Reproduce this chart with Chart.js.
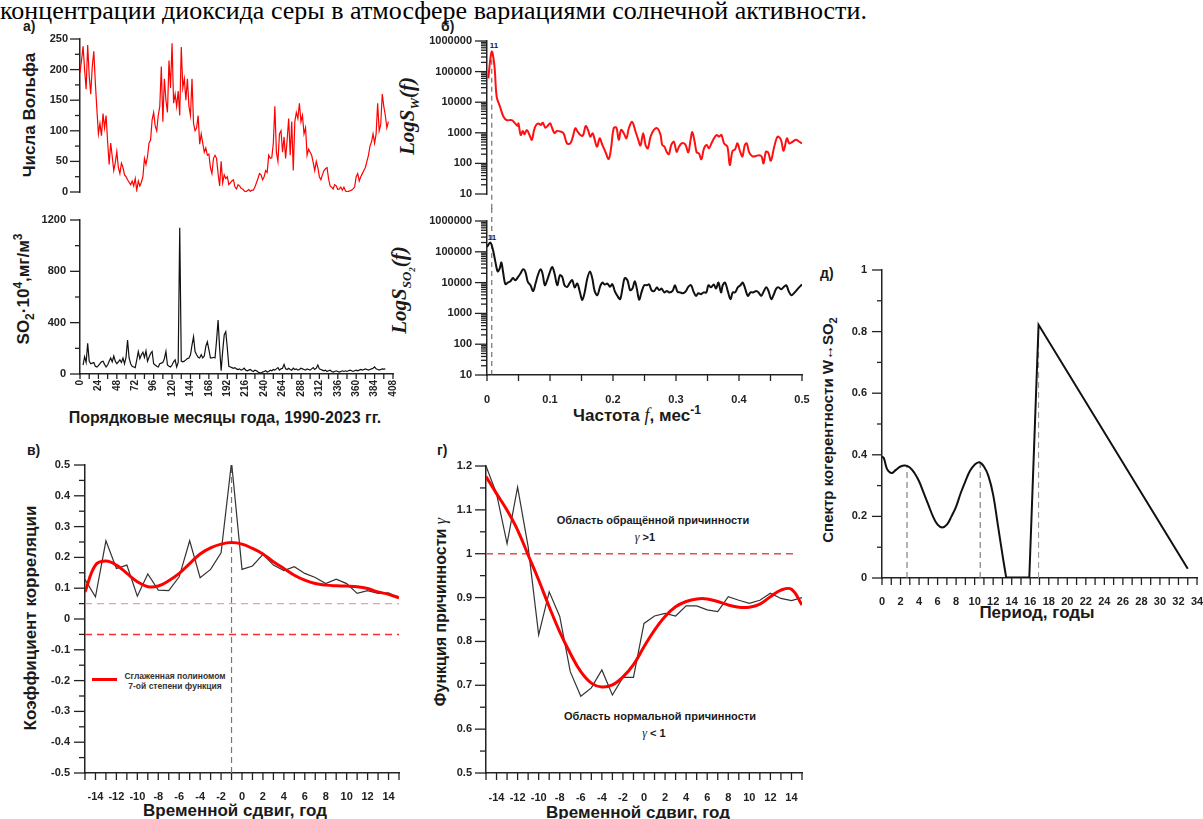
<!DOCTYPE html>
<html><head><meta charset="utf-8">
<script src="https://cdn.jsdelivr.net/npm/chart.js@4"></script>
<style>
html,body{margin:0;padding:0;background:#fff;}
body{width:1203px;height:819px;overflow:hidden;position:relative;font-family:"Liberation Sans",Arial,sans-serif;}
canvas{position:absolute;}
.t{position:absolute;white-space:nowrap;font-weight:bold;color:#1a1a1a;line-height:1;}
.c{transform:translate(-50%,-50%);}
.r{transform:translate(-50%,-50%) rotate(-90deg);}
.s{font-family:"Liberation Serif","Times New Roman",serif;font-style:italic;font-weight:normal;}
</style></head><body>

<div class="t" style="left:0;top:-2px;font-family:'Liberation Serif',serif;font-weight:normal;font-size:26px;color:#000">концентрации диоксида серы в атмосфере вариациями солнечной активности.</div>

<div class="t" style="left:23px;top:19px;font-size:14px">а)</div>
<div class="t" style="left:441px;top:19px;font-size:14px">б)</div>
<div class="t" style="left:27px;top:443px;font-size:14px">в)</div>
<div class="t" style="left:437px;top:443px;font-size:14px">г)</div>
<div class="t" style="left:820px;top:266px;font-size:14px">д)</div>

<div class="t r" style="left:29px;top:115px;font-size:17px">Числа Вольфа</div>
<div class="t r" style="left:24px;top:289px;font-size:17px">SO<sub style="font-size:12px">2</sub>·10<sup style="font-size:12px">4</sup>,мг/м<sup style="font-size:12px">3</sup></div>
<div class="t c" style="left:225px;top:418px;font-size:16px">Порядковые месяцы года, 1990-2023 гг.</div>

<div class="t r s" style="left:409px;top:116px;font-size:21px;font-weight:bold">LogS<sub style="font-size:13px">W</sub>(f)</div>
<div class="t r s" style="left:403px;top:290px;font-size:21px;font-weight:bold">LogS<sub style="font-size:13px">SO<sub style="font-size:9px">2</sub></sub>(f)</div>
<div class="t c" style="left:637px;top:414px;font-size:17px">Частота <span class="s" style="font-size:18px">f</span>, мес<sup style="font-size:12px">-1</sup></div>
<div class="t c" style="left:494px;top:46px;font-size:8px">11</div>
<div class="t c" style="left:492px;top:238px;font-size:8px">11</div>

<div class="t r" style="left:30px;top:618px;font-size:17px">Коэффициент корреляции</div>
<div class="t c" style="left:235px;top:810px;font-size:17px">Временной сдвиг, год</div>
<div style="position:absolute;left:92px;top:678px;width:25px;height:3px;background:#ff0000"></div>
<div class="t c" style="left:175px;top:676px;font-size:8.5px;color:#333">Сглаженная полиномом</div>
<div class="t c" style="left:175px;top:686px;font-size:8.5px;color:#333">7-ой степени функция</div>

<div class="t r" style="left:441px;top:612px;font-size:16px">Функция причинности <span class="s">γ</span></div>
<div class="t c" style="left:638px;top:812px;font-size:17px">Временной сдвиг, год</div>
<div class="t c" style="left:653px;top:520px;font-size:11px">Область обращённой причинности</div>
<div class="t c" style="left:645px;top:537px;font-size:11px"><span class="s" style="font-size:12px">γ</span> &gt;1</div>
<div class="t c" style="left:660px;top:716px;font-size:11px">Область нормальной причинности</div>
<div class="t c" style="left:654px;top:733px;font-size:11px"><span class="s" style="font-size:12px">γ</span> &lt; 1</div>

<div class="t r" style="left:829px;top:430px;font-size:15px">Спектр когерентности W↔SO<sub style="font-size:11px">2</sub></div>
<div class="t c" style="left:1037px;top:612px;font-size:17px">Период, годы</div>

<script>
// ---------- DATA ----------
// а) Wolf numbers, one value every 2 months starting at month 0
const wolfFirstMonth = 0, wolfMonthStep = 2;
const wolfValues = [
 195,215,238,200,168,240,190,160,205,230,
 178,135,95,112,92,128,105,125,82,45,
 80,58,35,48,66,40,30,47,40,28,
 25,20,16,12,18,10,22,3,18,10,
 16,25,55,45,58,80,85,118,130,108,
 100,125,140,205,115,185,150,130,215,170,
 243,145,160,140,165,125,237,170,185,150,
 185,140,125,185,112,100,105,125,78,95,
 80,65,72,60,62,40,30,55,60,55,
 30,10,50,15,28,22,25,12,15,18,
 20,8,5,12,10,6,5,2,0,2,
 4,1,3,3,8,15,22,30,28,20,
 25,35,32,60,55,56,80,140,65,50,
 95,100,65,90,55,85,120,60,115,35,
 115,130,120,145,115,125,95,105,60,70,
 65,60,48,35,50,40,25,20,28,35,
 38,40,22,10,8,5,12,10,4,5,
 8,3,8,2,0,1,2,3,5,8,
 25,30,18,25,30,35,40,50,60,75,
 82,95,80,95,145,100,110,160,140,125,
 105,115];
// а) SO2 concentration, one value every 2 months starting at month 4
const so2FirstMonth = 4, so2MonthStep = 2;
const so2Values = [
 70,135,90,240,100,80,85,90,60,55,
 65,80,95,100,75,55,70,100,125,95,
 140,100,80,95,110,90,125,80,130,265,
 125,80,60,55,50,110,175,120,150,170,
 130,180,100,130,160,175,80,70,60,55,
 80,85,90,120,175,70,60,55,70,95,
 110,55,90,1140,100,95,100,110,120,125,
 150,225,290,175,150,130,125,150,125,140,
 215,250,190,125,125,130,125,260,420,200,
 25,180,305,330,205,60,55,50,45,50,
 40,35,40,30,35,45,30,25,30,35,
 25,20,30,25,15,10,8,15,20,25,
 15,20,30,25,35,30,40,50,30,40,
 45,75,40,35,45,35,30,45,35,40,
 30,35,45,40,35,30,40,35,30,40,
 50,35,45,70,40,35,30,25,30,20,
 25,30,20,15,20,25,20,15,20,25,
 20,25,20,25,30,25,20,25,30,25,
 30,35,30,35,40,35,30,35,40,45,
 55,40,35,30,35,40,38,40];
const wolfTicksY = [0,50,100,150,200,250];
const so2TicksY = [0,400,800,1200];
const monthTicks = [0,24,48,72,96,120,144,168,192,216,240,264,288,312,336,360,384,408];

// б) spectra
const peakFreq = 0.0076;
const swFreq = [0.002,0.0074,0.0117,0.0154,0.0207,0.026,0.0313,0.0393,0.0446,0.0488,0.0499,0.0536,0.0568,0.0594,0.0632,0.0674,0.0711,0.0748,0.078,0.0817,0.0855,0.0886,0.0924,0.0961,0.1003,0.1035,0.1072,0.1109,0.1162,0.1215,0.1269,0.1322,0.1364,0.1401,0.1438,0.1481,0.1523,0.1566,0.1603,0.164,0.1677,0.1704,0.1746,0.1789,0.1831,0.1879,0.1932,0.1969,0.2011,0.2054,0.2091,0.2128,0.2171,0.2213,0.2251,0.2304,0.2357,0.2394,0.2436,0.2479,0.2516,0.2553,0.2596,0.2649,0.2702,0.2755,0.2781,0.2818,0.285,0.2887,0.2925,0.2967,0.301,0.3047,0.3089,0.3126,0.3153,0.3195,0.3232,0.3259,0.3296,0.3328,0.3365,0.3402,0.3445,0.3487,0.3524,0.3562,0.3604,0.3646,0.3684,0.3721,0.3763,0.3816,0.3854,0.3896,0.3938,0.3976,0.4018,0.4055,0.4092,0.4124,0.4161,0.4214,0.4268,0.4321,0.4358,0.439,0.4427,0.4464,0.4506,0.4559,0.4613,0.4666,0.4708,0.4761,0.4798,0.4851,0.4904,0.4958,0.5];
const swValues = [60000,450000,164000,15000,7100,3400,2600,2600,2030,1670,2030,850,1150,890,1240,850,590,1240,1790,2030,1790,2140,1480,1670,2030,1410,970,1150,1100,970,450,450,750,1410,1100,850,810,1670,1240,750,970,660,350,660,400,240,140,310,1410,1480,590,1240,970,660,1410,2290,1100,660,385,970,400,310,750,1240,1410,850,400,350,240,200,400,510,240,350,450,450,400,230,590,1050,510,230,210,137,310,400,310,450,660,850,750,850,450,350,89,250,290,450,240,170,400,450,230,170,175,185,170,100,240,225,122,350,750,590,260,660,450,510,590,510,450];
const sso2Freq = [0,0.0053,0.0096,0.0133,0.017,0.0202,0.0228,0.0255,0.0292,0.0329,0.0372,0.0414,0.0451,0.0494,0.0531,0.0573,0.061,0.0648,0.069,0.0732,0.077,0.0807,0.0849,0.0881,0.0918,0.0955,0.0998,0.1035,0.1072,0.1115,0.1157,0.1194,0.1231,0.1274,0.1316,0.1354,0.1391,0.1433,0.1476,0.1513,0.155,0.1592,0.1635,0.1672,0.1709,0.1752,0.1794,0.1831,0.1868,0.1911,0.1953,0.199,0.2028,0.207,0.2113,0.215,0.2187,0.2229,0.2272,0.2309,0.2346,0.2378,0.2415,0.2452,0.2495,0.2537,0.2574,0.2611,0.2654,0.2696,0.2734,0.2771,0.2813,0.2856,0.2893,0.2946,0.2983,0.3025,0.3068,0.311,0.3158,0.3195,0.3238,0.328,0.3317,0.3355,0.3397,0.3439,0.3482,0.3514,0.3556,0.3599,0.3636,0.3673,0.3715,0.3742,0.3779,0.3822,0.3864,0.3901,0.3938,0.3981,0.4023,0.406,0.4098,0.414,0.4183,0.422,0.4273,0.431,0.4352,0.4395,0.4432,0.4469,0.4512,0.4554,0.4591,0.4628,0.4671,0.4713,0.4751,0.4788,0.483,0.4883,0.4936,0.5];
const sso2Values = [144000,200000,112000,47000,23000,29000,45000,22000,8900,10000,11100,14000,11900,15300,19700,27000,22000,10500,8200,5300,9300,17300,27000,19700,8200,12000,22000,32000,19700,8200,17300,15300,8200,7300,10000,12000,7000,9300,4800,2700,4800,13500,23000,13500,5300,3900,7300,10000,8700,9300,7300,8900,5300,3700,2900,6400,14000,11900,5700,6400,11100,6400,2800,4800,8200,8200,8700,5700,5300,7000,5700,6400,4800,5300,4800,5400,8200,5000,4800,4500,5300,7300,8200,5000,3700,4500,4200,4800,4800,8200,7000,8700,6400,10000,4800,8200,10000,5300,2900,4800,4800,7000,8200,10000,6400,3700,4800,4800,5300,4800,3700,5300,7000,5300,2900,4200,6400,7000,6100,7300,8200,5300,3900,4800,6400,8700];
const logTicks = [10,100,1000,10000,100000,1000000];
const freqTicks = [0,0.1,0.2,0.3,0.4,0.5];

// в) and г) lag functions
const lagYears = [-15,-14,-13,-12,-11,-10,-9,-8,-7,-6,-5,-4,-3,-2,-1,0,1,2,3,4,5,6,7,8,9,10,11,12,13,14,15];
const corrRaw = [0.128,0.072,0.254,0.164,0.175,0.074,0.146,0.094,0.092,0.137,0.254,0.134,0.161,0.215,0.509,0.161,0.172,0.21,0.175,0.157,0.17,0.148,0.135,0.115,0.129,0.115,0.083,0.092,0.083,0.085,0.069];
const corrSmooth = [0.088,0.175,0.188,0.175,0.148,0.121,0.105,0.107,0.124,0.148,0.18,0.211,0.231,0.243,0.248,0.243,0.229,0.211,0.186,0.164,0.142,0.126,0.115,0.11,0.108,0.107,0.105,0.099,0.088,0.08,0.069];
const corrLevel = 0.05;
const corrPeakLag = -1;
const causRaw = [1.2,1.137,1.023,1.152,1.016,0.815,0.913,0.857,0.731,0.675,0.694,0.735,0.678,0.718,0.718,0.841,0.858,0.864,0.858,0.881,0.881,0.872,0.868,0.902,0.894,0.887,0.894,0.91,0.898,0.893,0.9];
const causSmooth = [1.176,1.137,1.099,1.054,0.997,0.94,0.879,0.822,0.773,0.731,0.705,0.696,0.701,0.719,0.747,0.788,0.826,0.857,0.879,0.891,0.897,0.897,0.891,0.883,0.878,0.878,0.885,0.902,0.917,0.919,0.883];
const causLevel = 1;
const lagTicks = [-14,-12,-10,-8,-6,-4,-2,0,2,4,6,8,10,12,14];
const corrTicksY = [-0.5,-0.4,-0.3,-0.2,-0.1,0,0.1,0.2,0.3,0.4,0.5];
const causTicksY = [0.5,0.6,0.7,0.8,0.9,1,1.1,1.2];

// д) coherence spectrum
const cohPeriodSmooth = [0,0.2,0.5,0.8,1.1,1.5,2,2.5,3,3.5,4,4.5,5,5.5,6,6.5,7,7.5,8,8.5,9,9.5,10,10.5,11,11.5,12,12.5,13,13.4];
const cohSmooth = [0.395,0.389,0.357,0.344,0.341,0.351,0.362,0.365,0.359,0.341,0.314,0.276,0.238,0.2,0.173,0.164,0.173,0.2,0.232,0.276,0.314,0.348,0.368,0.376,0.362,0.33,0.27,0.173,0.076,0.002];
const cohPeriodLinear = [13.4,15.9,16.9,33];
const cohLinear = [0.002,0.002,0.822,0.03];
const cohPeakPeriods = [2.7,10.6,16.9];
const cohPeakValues = [0.365,0.376,0.822];
const periodTicks = [0,2,4,6,8,10,12,14,16,18,20,22,24,26,28,30,32,34];
const cohTicksY = [0,0.2,0.4,0.6,0.8,1];

// ---------- RENDERING ----------
const FONT = "'Liberation Sans', Arial, sans-serif";
Chart.defaults.font.family = FONT;
Chart.defaults.color = '#222';

const range = (a, b, s) => { const r = []; for (let v = a; v <= b + 1e-9; v += s) r.push(Math.round(v * 1000) / 1000); return r; };

const tickPlugin = {
  id: 'tickMarks',
  afterDraw(chart, args, opts) {
    const ctx = chart.ctx, a = chart.chartArea;
    ctx.save();
    ctx.strokeStyle = '#222';
    ctx.lineWidth = 1.3;
    for (const d of (opts.defs || [])) {
      const s = chart.scales[d.axis];
      for (const v of d.values) {
        const p = s.getPixelForValue(v);
        ctx.beginPath();
        if (d.axis === 'x') { ctx.moveTo(p, a.bottom); ctx.lineTo(p, a.bottom + d.len); }
        else { ctx.moveTo(a.left, p); ctx.lineTo(a.left - d.len, p); }
        ctx.stroke();
      }
    }
    ctx.restore();
  }
};

function axisOpts(o, pos, fit) {
  return {
    type: o.type || 'linear', position: pos, min: o.min, max: o.max,
    grid: {display: false, drawTicks: true, tickLength: o.tl || 0},
    border: {display: o.line !== false, color: '#222', width: 1.5},
    ticks: {display: o.labels !== false, padding: o.pad || 0, autoSkip: false,
      maxRotation: o.rot || 0, minRotation: o.rot || 0,
      font: {size: o.fs || 11, weight: 'bold'}, color: '#222',
      callback: (v) => String(v)},
    afterBuildTicks: (s) => { s.ticks = (o.ticks || []).map(v => ({value: v})); },
    afterFit: (s) => { fit(s); s.paddingLeft = 0; s.paddingRight = 0; s.paddingTop = 0; s.paddingBottom = 0; }
  };
}

function pts(xs, ys) { return xs.map((x, i) => ({x: x, y: ys[i]})); }
function ds(xs, ys, color, width, extra) {
  return Object.assign({data: pts(xs, ys), borderColor: color, borderWidth: width, fill: false,
    tension: 0, pointRadius: 0}, extra || {});
}

function panel(box, xo, yo, datasets, defs) {
  const c = document.createElement('canvas');
  const w = box.R - box.L + box.pl + box.pr;
  const h = box.B - box.T + box.pt + box.pb;
  c.width = w; c.height = h;
  c.style.left = (box.L - box.pl) + 'px'; c.style.top = (box.T - box.pt) + 'px';
  c.style.width = w + 'px'; c.style.height = h + 'px';
  document.body.appendChild(c);
  return new Chart(c, {
    type: 'line',
    data: {datasets: datasets},
    options: {
      responsive: false, animation: false, devicePixelRatio: 1, events: [],
      layout: {padding: {left: 0, top: box.pt, right: box.pr, bottom: 0}, autoPadding: false},
      plugins: {legend: {display: false}, tooltip: {enabled: false}, tickMarks: {defs: defs}},
      elements: {point: {radius: 0}},
      scales: {
        x: axisOpts(xo, 'bottom', s => { s.height = box.pb; }),
        y: axisOpts(yo, 'left', s => { s.width = box.pl; })
      }
    },
    plugins: [tickPlugin]
  });
}

const wolfMonths = wolfValues.map((_, i) => wolfFirstMonth + i * wolfMonthStep);
const so2Months = so2Values.map((_, i) => so2FirstMonth + i * so2MonthStep);

// а) top
panel({L: 80, T: 39, R: 393, B: 192, pl: 80, pt: 6, pr: 6, pb: 6},
  {min: 0, max: 408, line: false, labels: false, ticks: []},
  {min: 0, max: 250, ticks: wolfTicksY, tl: 10, pad: 2},
  [ds(wolfMonths, wolfValues, '#ff0000', 1.2)],
  [{axis: 'y', values: wolfTicksY, len: 10}, {axis: 'y', values: range(25, 225, 50), len: 5}]);

// а) bottom
panel({L: 80, T: 220, R: 393, B: 374, pl: 80, pt: 6, pr: 8, pb: 36},
  {min: 0, max: 408, ticks: monthTicks, tl: 5, pad: 1, rot: 90, fs: 10},
  {min: 0, max: 1200, ticks: so2TicksY, tl: 10, pad: 4},
  [ds(so2Months, so2Values, '#111', 1.2)],
  [{axis: 'y', values: so2TicksY, len: 10}, {axis: 'y', values: [200, 600, 1000], len: 5},
   {axis: 'x', values: range(0, 408, 12), len: 5}]);

const logMinor = [];
[10, 100, 1000, 10000, 100000].forEach(d => { for (let k = 2; k <= 9; k++) logMinor.push(k * d); });

// б) top
panel({L: 487, T: 41, R: 802, B: 194, pl: 65, pt: 8, pr: 10, pb: 18},
  {min: 0, max: 0.5, line: false, labels: false, ticks: []},
  {type: 'logarithmic', min: 10, max: 1000000, ticks: logTicks, tl: 12, pad: 3},
  [ds(swFreq, swValues, '#ff1010', 2, {tension: 0.35}),
   ds([peakFreq, peakFreq], [3.3, 300000], '#555', 1, {borderDash: [5, 4], clip: false})],
  [{axis: 'y', values: logTicks, len: 12}, {axis: 'y', values: logMinor, len: 6}]);

// б) bottom
panel({L: 487, T: 221, R: 802, B: 375, pl: 65, pt: 18, pr: 12, pb: 34},
  {min: 0, max: 0.5, ticks: freqTicks, tl: 5, pad: 13},
  {type: 'logarithmic', min: 10, max: 1000000, ticks: logTicks, tl: 12, pad: 3},
  [ds(sso2Freq, sso2Values, '#111', 2, {tension: 0.35}),
   ds([peakFreq, peakFreq], [10, 3300000], '#555', 1, {borderDash: [5, 4], clip: false})],
  [{axis: 'y', values: logTicks, len: 12}, {axis: 'y', values: logMinor, len: 6},
   {axis: 'x', values: range(0, 0.5, 0.05), len: 6}]);

// в)
panel({L: 85, T: 465, R: 399, B: 773, pl: 85, pt: 8, pr: 8, pb: 34},
  {min: -15, max: 15, ticks: lagTicks, tl: 7, pad: 10},
  {min: -0.5, max: 0.5, ticks: corrTicksY, tl: 11, pad: 4},
  [ds(lagYears, corrSmooth, '#ff0000', 3, {tension: 0.4}),
   ds(lagYears, corrRaw, '#333', 1.2),
   ds([-15, 15], [corrLevel, corrLevel], 'rgba(245,130,130,0.8)', 1.4, {borderDash: [7, 5]}),
   ds([-15, 15], [-corrLevel, -corrLevel], '#ff2a2a', 1.5, {borderDash: [7, 5]}),
   ds([corrPeakLag, corrPeakLag], [-0.5, 0.5], '#777', 1.2, {borderDash: [6, 4]})],
  [{axis: 'y', values: corrTicksY, len: 11}, {axis: 'y', values: range(-0.45, 0.45, 0.1), len: 6},
   {axis: 'x', values: range(-15, 15, 1), len: 7}]);

// г)
panel({L: 486, T: 466, R: 802, B: 773, pl: 70, pt: 8, pr: 8, pb: 34},
  {min: -15, max: 15, ticks: lagTicks, tl: 7, pad: 11},
  {min: 0.5, max: 1.2, ticks: causTicksY, tl: 11, pad: 3},
  [ds(lagYears, causSmooth, '#ff0000', 3, {tension: 0.4}),
   ds(lagYears, causRaw, '#333', 1.2),
   ds([-15, 14.6], [causLevel, causLevel], '#f04848', 1.4, {borderDash: [7, 5]})],
  [{axis: 'y', values: causTicksY, len: 11}, {axis: 'y', values: range(0.55, 1.15, 0.1), len: 6},
   {axis: 'x', values: range(-15, 15, 1), len: 7}]);

// д)
panel({L: 882, T: 270, R: 1197, B: 578, pl: 45, pt: 8, pr: 6, pb: 34},
  {min: 0, max: 34, ticks: periodTicks, tl: 7, pad: 10},
  {min: 0, max: 1, ticks: cohTicksY, tl: 10, pad: 5},
  [ds(cohPeriodSmooth, cohSmooth, '#111', 2, {tension: 0.4}),
   ds(cohPeriodLinear, cohLinear, '#111', 2),
   ds([cohPeakPeriods[0], cohPeakPeriods[0]], [0, cohPeakValues[0]], '#777', 1.1, {borderDash: [6, 4]}),
   ds([cohPeakPeriods[1], cohPeakPeriods[1]], [0, cohPeakValues[1]], '#777', 1.1, {borderDash: [6, 4]}),
   ds([cohPeakPeriods[2], cohPeakPeriods[2]], [0, cohPeakValues[2]], '#999', 1.1, {borderDash: [6, 4]})],
  [{axis: 'y', values: cohTicksY, len: 10}, {axis: 'y', values: [0.1, 0.3, 0.5, 0.7, 0.9], len: 5},
   {axis: 'x', values: range(0, 34, 1), len: 7}]);
</script>
</body></html>
